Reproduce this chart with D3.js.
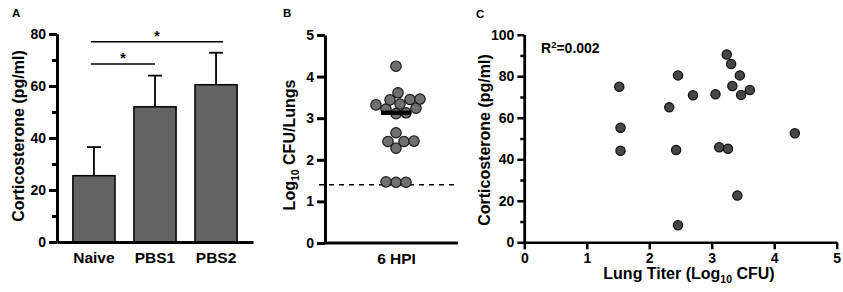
<!DOCTYPE html>
<html lang="en">
<head>
<meta charset="UTF-8">
<title>Corticosterone and lung titer</title>
<script src="https://d3js.org/d3.v7.min.js"></script>
<style>
  body { margin: 0; background: #fff; }
  svg { font-family: "Liberation Sans", Arial, sans-serif; font-weight: bold; }
  .axis text { font-size: 14px; font-weight: bold; fill: #000; }
  .cat text { font-size: 15.5px; }
  .title { font-size: 16px; }
  .panel { font-size: 11.5px; }
</style>
</head>
<body>
<div id="chart"></div>
<script>
// Panel A: corticosterone by group (mean, upper SD)
var groups = ["Naive", "PBS1", "PBS2"];
var groupMeans = [25.5, 52, 60.5];
var groupErr = [11, 12, 12.3];
var sigPairs = [["Naive", "PBS2"], ["Naive", "PBS1"]];
var sigLevels = [77, 68.5];

// Panel B: lung titer at 6 HPI (log10 CFU)
var titerGroup = "6 HPI";
var titers = [4.25, 3.61, 3.46, 3.45, 3.44, 3.34, 3.32, 3.24, 3.22, 3.13, 3.11,
              2.65, 2.45, 2.44, 2.44, 2.28, 1.47, 1.46, 1.46];
var detectionLimit = 1.4;

// Panel C: corticosterone vs lung titer
var scatterX = [1.52, 1.54, 1.54, 2.32, 2.46, 2.43, 2.46, 2.70, 3.06, 3.12,
                3.24, 3.31, 3.33, 3.45, 3.47, 3.61, 3.26, 3.41, 4.33];
var scatterY = [74.9, 55.2, 44.1, 65, 80.4, 44.5, 8.2, 70.8, 71.3, 45.8,
                90.5, 85.9, 75.3, 80.4, 71, 73.4, 45.1, 22.5, 52.5];
var rSquared = "0.002";

var svg = d3.select("#chart").append("svg")
    .attr("width", 843)
    .attr("height", 292);

function styleAxis(g, w) {
    g.selectAll(".domain").attr("stroke", "#000").attr("stroke-width", w);
    g.selectAll(".tick line").attr("stroke", "#000").attr("stroke-width", w);
}

// ---------- Panel A ----------
var yA = d3.scaleLinear().domain([0, 80]).range([242, 34]);
var xA = d3.scaleBand().domain(groups).range([57, 253])
    .paddingInner(0.31).paddingOuter(0.26);

svg.append("g").selectAll("line.err")
    .data(groups)
    .enter().append("line")
    .attr("x1", d => xA(d) + xA.bandwidth() / 2)
    .attr("x2", d => xA(d) + xA.bandwidth() / 2)
    .attr("y1", (d, i) => yA(groupMeans[i]))
    .attr("y2", (d, i) => yA(groupMeans[i] + groupErr[i]))
    .attr("stroke", "#000").attr("stroke-width", 1.8);

svg.append("g").selectAll("line.cap")
    .data(groups)
    .enter().append("line")
    .attr("x1", d => xA(d) + xA.bandwidth() / 2 - 7)
    .attr("x2", d => xA(d) + xA.bandwidth() / 2 + 7)
    .attr("y1", (d, i) => yA(groupMeans[i] + groupErr[i]))
    .attr("y2", (d, i) => yA(groupMeans[i] + groupErr[i]))
    .attr("stroke", "#000").attr("stroke-width", 1.8);

svg.append("g").selectAll("rect")
    .data(groups)
    .enter().append("rect")
    .attr("x", d => xA(d))
    .attr("width", xA.bandwidth())
    .attr("y", (d, i) => yA(groupMeans[i]))
    .attr("height", (d, i) => yA(0) - yA(groupMeans[i]))
    .attr("fill", "#636363")
    .attr("stroke", "#000").attr("stroke-width", 1.5);

// significance brackets
sigPairs.forEach(function(p, i) {
    var x1 = xA(p[0]) + xA.bandwidth() / 2 - 3;
    var x2 = xA(p[1]) + xA.bandwidth() / 2 + (i === 0 ? 7 : 0);
    svg.append("line")
        .attr("x1", x1).attr("x2", x2)
        .attr("y1", yA(sigLevels[i])).attr("y2", yA(sigLevels[i]))
        .attr("stroke", "#000").attr("stroke-width", 1.5);
    svg.append("text")
        .attr("x", (x1 + x2) / 2).attr("y", yA(sigLevels[i]) - 0.5)
        .attr("text-anchor", "middle")
        .style("font-size", "14px")
        .text("*");
});

svg.append("g").attr("class", "axis")
    .attr("transform", "translate(57,0)")
    .call(d3.axisLeft(yA).tickValues([10, 30, 50, 70]).tickSize(5).tickSizeOuter(0).tickFormat(""))
    .call(g => styleAxis(g, 3));
svg.append("g").attr("class", "axis")
    .attr("transform", "translate(57,0)")
    .call(d3.axisLeft(yA).tickValues([0, 20, 40, 60, 80]).tickSize(8).tickPadding(3).tickSizeOuter(0))
    .call(g => styleAxis(g, 3));
svg.append("g").attr("class", "axis cat")
    .attr("transform", "translate(0,242)")
    .call(d3.axisBottom(xA).tickSize(0).tickSizeOuter(0).tickPadding(10))
    .call(g => styleAxis(g, 3));

svg.append("text").attr("class", "title")
    .attr("transform", "translate(24,136) rotate(-90)")
    .attr("text-anchor", "middle")
    .text("Corticosterone (pg/ml)");
svg.append("text").attr("class", "panel").attr("x", 12).attr("y", 17).text("A");

// ---------- Panel B ----------
var yB = d3.scaleLinear().domain([0, 5]).range([243, 35]);
var xB = d3.scalePoint().domain([titerGroup]).range([325, 467]).padding(0.5);
var rB = 5.2;

// simple beeswarm: lowest values first, nearest free slot to the centre
var placed = [];
titers.slice().sort(d3.ascending).forEach(function(v) {
    var cy = yB(v), best = null;
    for (var k = 0; k < 60 && best === null; k++) {
        [k, -k].forEach(function(s) {
            if (best !== null) return;
            var cx = xB(titerGroup) + s * 2;
            var ok = placed.every(p => Math.hypot(p.x - cx, p.y - cy) >= 9.8);
            if (ok) best = cx;
        });
    }
    placed.push({ x: best, y: cy, v: v });
});

svg.append("line")
    .attr("x1", 319).attr("x2", 458)
    .attr("y1", yB(detectionLimit)).attr("y2", yB(detectionLimit))
    .attr("stroke", "#000").attr("stroke-width", 1.5)
    .attr("stroke-dasharray", "5,5");

svg.append("g").selectAll("circle")
    .data(placed)
    .enter().append("circle")
    .attr("cx", d => d.x).attr("cy", d => d.y).attr("r", rB)
    .attr("fill", "#707070").attr("stroke", "#1a1a1a").attr("stroke-width", 1.2);

var med = d3.median(titers);
svg.append("line")
    .attr("x1", xB(titerGroup) - 15).attr("x2", xB(titerGroup) + 15)
    .attr("y1", yB(med)).attr("y2", yB(med))
    .attr("stroke", "#000").attr("stroke-width", 4.5);

svg.append("g").attr("class", "axis")
    .attr("transform", "translate(325,0)")
    .call(d3.axisLeft(yB).ticks(5).tickSize(8).tickPadding(3).tickSizeOuter(0))
    .call(g => styleAxis(g, 3));
svg.append("g").attr("class", "axis cat")
    .attr("transform", "translate(0,243)")
    .call(d3.axisBottom(xB).tickSize(0).tickPadding(10))
    .call(g => g.select(".domain").remove());
svg.append("line")
    .attr("x1", 325).attr("x2", 458).attr("y1", 243).attr("y2", 243)
    .attr("stroke", "#000").attr("stroke-width", 3);

var tB = svg.append("text").attr("class", "title")
    .attr("transform", "translate(295,145) rotate(-90)")
    .attr("text-anchor", "middle");
tB.append("tspan").text("Log");
tB.append("tspan").attr("dy", 4).style("font-size", "10.5px").text("10");
tB.append("tspan").attr("dy", -4).text(" CFU/Lungs");
svg.append("text").attr("class", "panel").attr("x", 283).attr("y", 17).text("B");

// ---------- Panel C ----------
var xC = d3.scaleLinear().domain([0, 5]).range([524.3, 836.7]);
var yC = d3.scaleLinear().domain([0, 100]).range([242.3, 34.7]);

svg.append("g").attr("class", "axis")
    .attr("transform", "translate(524.3,0)")
    .call(d3.axisLeft(yC).tickValues([10, 30, 50, 70, 90]).tickSize(4).tickSizeOuter(0).tickFormat(""))
    .call(g => styleAxis(g, 2.5));
svg.append("g").attr("class", "axis")
    .attr("transform", "translate(524.3,0)")
    .call(d3.axisLeft(yC).tickValues([0, 20, 40, 60, 80, 100]).tickSize(7).tickPadding(3).tickSizeOuter(0))
    .call(g => styleAxis(g, 2.5));
svg.append("g").attr("class", "axis")
    .attr("transform", "translate(0,242.3)")
    .call(d3.axisBottom(xC).ticks(5).tickSize(7).tickPadding(4).tickSizeOuter(0))
    .call(g => styleAxis(g, 2.5));

svg.append("g").selectAll("circle")
    .data(scatterX)
    .enter().append("circle")
    .attr("cx", d => xC(d))
    .attr("cy", (d, i) => yC(scatterY[i]))
    .attr("r", 4.6)
    .attr("fill", "#474747").attr("stroke", "#111").attr("stroke-width", 1.3);

var r2 = svg.append("text").attr("x", 541).attr("y", 53).style("font-size", "14px");
r2.append("tspan").text("R");
r2.append("tspan").attr("dy", -5).style("font-size", "9.5px").text("2");
r2.append("tspan").attr("dy", 5).text("=" + rSquared);

var tCx = svg.append("text").attr("class", "title")
    .attr("x", 689).attr("y", 279).attr("text-anchor", "middle");
tCx.append("tspan").text("Lung Titer (Log");
tCx.append("tspan").attr("dy", 4).style("font-size", "10.5px").text("10");
tCx.append("tspan").attr("dy", -4).text(" CFU)");

svg.append("text").attr("class", "title")
    .attr("transform", "translate(490,140) rotate(-90)")
    .attr("text-anchor", "middle")
    .text("Corticosterone (pg/ml)");
svg.append("text").attr("class", "panel").attr("x", 476).attr("y", 18).text("C");
</script>
</body>
</html>
